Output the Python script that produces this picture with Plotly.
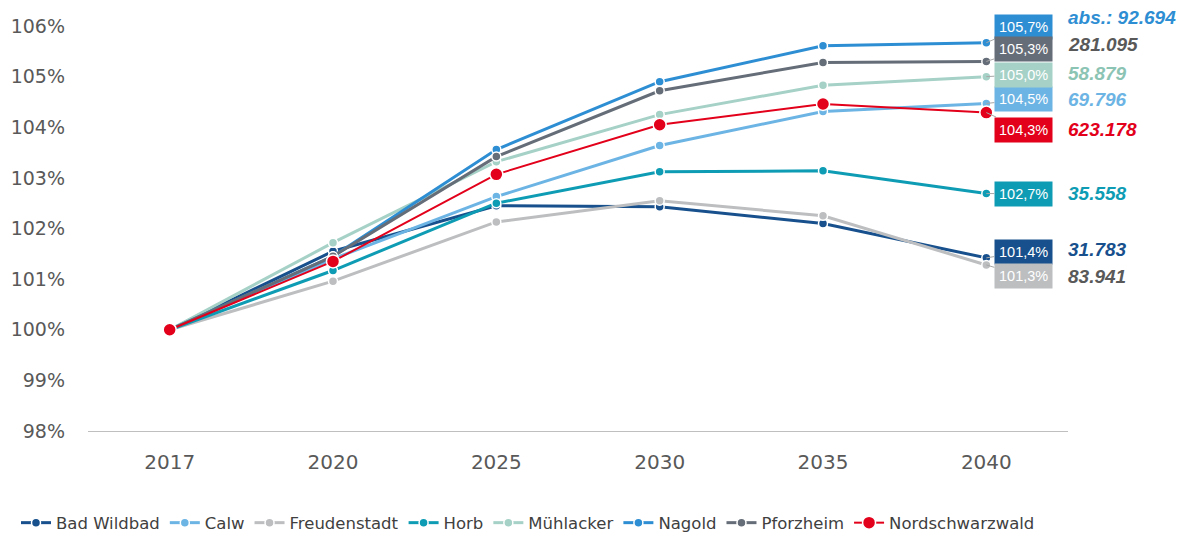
import plotly.graph_objects as go

years = ["2017", "2020", "2025", "2030", "2035", "2040"]
series_names = ["Bad Wildbad", "Calw", "Freudenstadt", "Horb", "Mühlacker", "Nagold", "Pforzheim", "Nordschwarzwald"]
bad_wildbad = [100.0, 101.55, 102.45, 102.43, 102.10, 101.42]
calw = [100.0, 101.40, 102.63, 103.64, 104.31, 104.47]
freudenstadt = [100.0, 100.96, 102.13, 102.55, 102.25, 101.28]
horb = [100.0, 101.17, 102.50, 103.12, 103.14, 102.69]
muehlacker = [100.0, 101.72, 103.32, 104.25, 104.83, 105.00]
nagold = [100.0, 101.45, 103.56, 104.90, 105.61, 105.67]
pforzheim = [100.0, 101.45, 103.42, 104.72, 105.28, 105.30]
nordschwarzwald = [100.0, 101.35, 103.07, 104.05, 104.46, 104.29]
end_labels = ["101,4%", "104,5%", "101,3%", "102,7%", "105,0%", "105,7%", "105,3%", "104,3%"]
abs_labels = ["31.783", "69.796", "83.941", "35.558", "58.879", "abs.: 92.694", "281.095", "623.178"]
y_ticks = [98, 99, 100, 101, 102, 103, 104, 105, 106]

values = [bad_wildbad, calw, freudenstadt, horb, muehlacker, nagold, pforzheim, nordschwarzwald]
colors = ["#17508C", "#6CB4E4", "#BCBEC0", "#0E9CB4", "#A5D1C6", "#2E8ED3", "#656D78", "#E2001A"]
abs_colors = ["#17508C", "#6CB4E4", "#595959", "#0E9CB4", "#8CC4B4", "#2E8ED3", "#595959", "#E2001A"]
line_widths = [3, 3, 3, 3, 3, 3, 3, 2]
marker_sizes = [9, 9, 9, 9, 9, 9, 9, 13]
box_ay = [-6, -4, 11, 0, -2, -16, -12, 17]
abs_yshift = [8, 4, -12, 0, 3, 25, 17, -17]

fig = go.Figure()
for name, vals, col, lw, ms in zip(series_names, values, colors, line_widths, marker_sizes):
    fig.add_trace(go.Scatter(
        x=years, y=vals, name=name, mode="lines+markers",
        line=dict(color=col, width=lw),
        marker=dict(color=col, size=ms, line=dict(color="white", width=1.5)),
        cliponaxis=False,
    ))

last_idx = len(years) - 1
for vals, col, acol, lab, alab, ay, ys in zip(values, colors, abs_colors, end_labels, abs_labels, box_ay, abs_yshift):
    fig.add_annotation(
        x=last_idx, y=vals[-1], text=lab, showarrow=True, arrowhead=0,
        arrowcolor="#A6A6A6", arrowwidth=1, ax=37, ay=ay,
        bgcolor=col, borderpad=4,
        font=dict(family="Liberation Sans, Arial", size=14.5, color="white"),
    )
    fig.add_annotation(
        x=last_idx, y=vals[-1], text="<b><i>" + alab + "</i></b>", showarrow=False,
        xanchor="left", xshift=80, yshift=ys,
        font=dict(family="Liberation Sans, Arial", size=19, color=acol),
    )

fig.update_layout(
    width=1184, height=537,
    margin=dict(l=88, r=116, t=26, b=106, autoexpand=False),
    paper_bgcolor="white", plot_bgcolor="white",
    font=dict(family="DejaVu Sans", color="#595959"),
    showlegend=True,
    legend=dict(orientation="h", x=(16 - 88) / 980, xref="paper", xanchor="left",
                y=-0.227, yref="paper", yanchor="middle",
                font=dict(size=16.5, color="#404040"), itemwidth=30, tracegroupgap=0),
    xaxis=dict(type="category", range=[-0.5, 5.5], showgrid=False, showline=True,
               linecolor="#BFBFBF", linewidth=1,
               ticks="", tickfont=dict(size=20, color="#595959"), ticklabelstandoff=13),
    yaxis=dict(range=[98, 106], tickvals=y_ticks, ticktext=[f"{v}%" for v in y_ticks],
               showgrid=False, zeroline=False, showline=False, ticks="",
               tickfont=dict(size=19, color="#595959"), ticklabelstandoff=22),
)

fig.write_html("out.html")
